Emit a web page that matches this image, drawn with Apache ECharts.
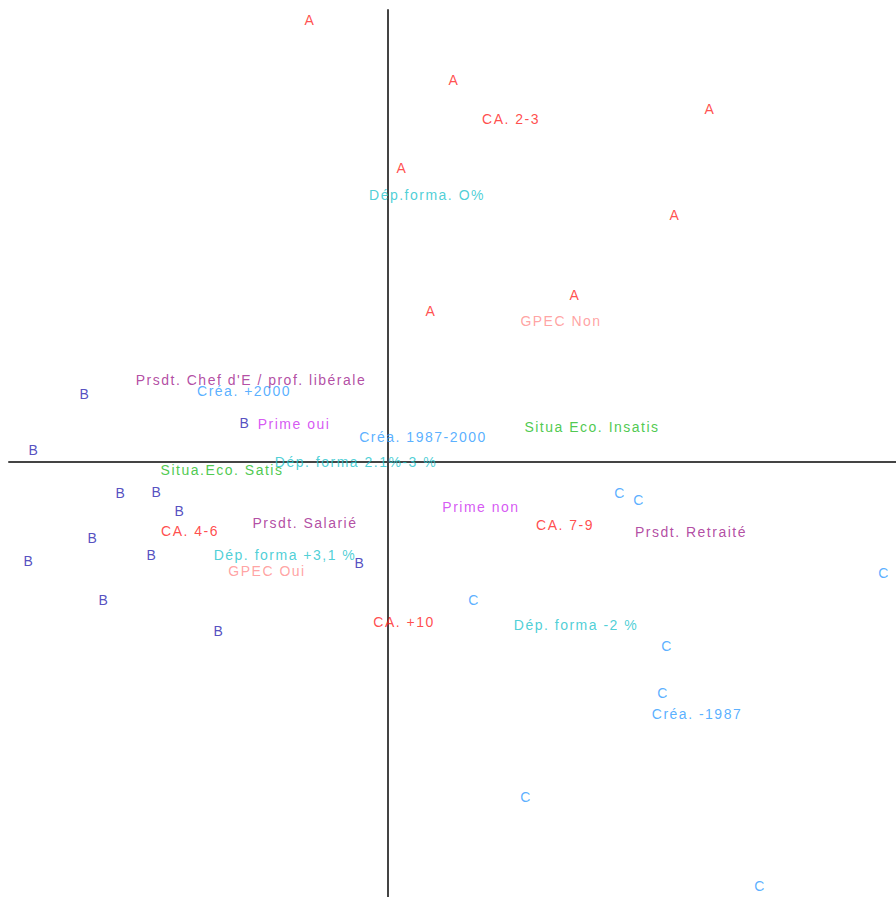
<!DOCTYPE html>
<html>
<head>
<meta charset="utf-8">
<style>
  html, body { margin: 0; padding: 0; background: #ffffff; }
  #chart { width: 896px; height: 897px; }
  /* labels are drawn with a little extra tracking */
  #chart svg text { letter-spacing: 1.5px; }
</style>
<script src="https://cdn.jsdelivr.net/npm/echarts@6/dist/echarts.min.js"></script>
</head>
<body>
<div id="chart"></div>
<script>
// Individuals on the first factorial plane (dimension 1, dimension 2), by class
const classA = [[-0.39, 2.21], [0.33, 1.91], [1.61, 1.765], [0.07, 1.47], [1.435, 1.235], [0.935, 0.835], [0.215, 0.755]];
const classB = [[-1.515, 0.34], [-0.715, 0.195], [-1.77, 0.06], [-1.335, -0.155], [-1.155, -0.15], [-1.04, -0.245],
                [-1.475, -0.38], [-1.18, -0.465], [-1.795, -0.495], [-0.14, -0.505], [-1.42, -0.69], [-0.845, -0.845]];
const classC = [[1.16, -0.155], [1.255, -0.19], [2.48, -0.555], [0.43, -0.69], [1.395, -0.92], [1.375, -1.155], [0.69, -1.675], [1.86, -2.12]];

// Modalities of the active variables: [label, dim 1, dim 2]
const caMods = [["CA. 2-3", 0.615, 1.715], ["CA. 4-6", -0.99, -0.345], ["CA. 7-9", 0.885, -0.315], ["CA. +10", 0.08, -0.8]];
const creaMods = [["Créa. +2000", -0.72, 0.355], ["Créa. 1987-2000", 0.175, 0.125], ["Créa. -1987", 1.545, -1.26]];
const depMods = [["Dép.forma. O%", 0.195, 1.335], ["Dép. forma 2.1%-3 %", -0.16, 0.0], ["Dép. forma +3,1 %", -0.515, -0.465], ["Dép. forma -2 %", 0.94, -0.815]];
const gpecMods = [["GPEC Non", 0.865, 0.705], ["GPEC Oui", -0.605, -0.545]];
const prsdtMods = [["Prsdt. Chef d'E / prof. libérale", -0.685, 0.41], ["Prsdt. Salarié", -0.415, -0.305], ["Prsdt. Retraité", 1.515, -0.35]];
const primeMods = [["Prime oui", -0.47, 0.19], ["Prime non", 0.465, -0.225]];
const situaMods = [["Situa Eco. Insatis", 1.02, 0.175], ["Situa.Eco. Satis", -0.83, -0.04]];

const FONT = '"Liberation Sans", Arial, sans-serif';

function textLayer(name, rows, color) {
  return {
    name: name,
    type: 'scatter',
    symbolSize: 1,
    itemStyle: { color: 'rgba(0,0,0,0)' },
    clip: false,
    silent: true,
    data: rows.map(r => ({ value: [r[1], r[2]], name: r[0] })),
    label: {
      show: true,
      position: 'inside',
      formatter: p => p.name,
      color: color,
      fontFamily: FONT,
      fontSize: 14
    }
  };
}

function letterLayer(name, pts, letter, color) {
  return textLayer(name, pts.map(p => [letter, p[0], p[1]]), color);
}

const chart = echarts.init(document.getElementById('chart'), null, { renderer: 'svg' });
chart.setOption({
  animation: false,
  backgroundColor: '#ffffff',
  grid: { left: 9, right: 0, top: 10, bottom: 0 },
  xAxis: {
    type: 'value',
    min: -1.895, max: 2.54,
    axisLine: { onZero: true, lineStyle: { color: '#444', width: 2 } },
    axisTick: { show: false },
    axisLabel: { show: false },
    splitLine: { show: false }
  },
  yAxis: {
    type: 'value',
    min: -2.175, max: 2.26,
    axisLine: { onZero: true, lineStyle: { color: '#444', width: 2 } },
    axisTick: { show: false },
    axisLabel: { show: false },
    splitLine: { show: false }
  },
  series: [
    letterLayer('A', classA, 'A', '#ff2424'),
    letterLayer('B', classB, 'B', '#2a22b0'),
    letterLayer('C', classC, 'C', '#2f9cff'),
    textLayer('CA', caMods, '#ff2020'),
    textLayer('Créa', creaMods, '#2f9cff'),
    textLayer('Dép. forma', depMods, '#22c3cc'),
    textLayer('GPEC', gpecMods, '#ff8c8c'),
    textLayer('Prsdt', prsdtMods, '#a0208c'),
    textLayer('Prime', primeMods, '#cc2ef0'),
    textLayer('Situa Eco', situaMods, '#22bb22')
  ]
});
</script>
</body>
</html>
